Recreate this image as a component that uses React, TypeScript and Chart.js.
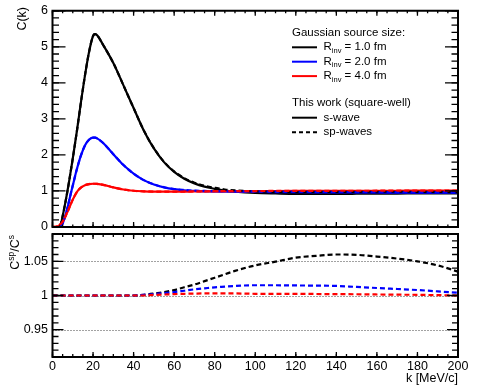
import React, { useEffect, useRef } from "react";
import { Chart, registerables } from "chart.js";
Chart.register(...registerables);

const FONT = '"Liberation Sans", Arial, Helvetica, sans-serif';

// ---- data ----
const kValues = [0, 2, 3, 4, 5, 6, 7, 8, 9, 10, 12, 14, 16, 18, 20, 21, 22, 25, 30, 35, 40, 45, 50, 55, 60, 65, 70, 75, 80, 85, 90, 100, 110, 120, 130, 140, 150, 160, 170, 180, 190, 200];

const sWaveR1 = [0, 0, 0, 0.05, 0.3, 0.58, 0.88, 1.2, 1.55, 1.9, 2.65, 3.45, 4.2, 4.85, 5.3, 5.35, 5.32, 5.05, 4.55, 3.93, 3.3, 2.68, 2.18, 1.8, 1.53, 1.34, 1.21, 1.12, 1.06, 1.01, 0.98, 0.945, 0.93, 0.92, 0.92, 0.92, 0.922, 0.925, 0.928, 0.93, 0.933, 0.935];
const sWaveR2 = [0, 0, 0, 0.02, 0.1, 0.25, 0.45, 0.68, 0.92, 1.15, 1.6, 1.98, 2.26, 2.42, 2.48, 2.48, 2.46, 2.33, 2.02, 1.72, 1.48, 1.3, 1.18, 1.1, 1.05, 1.02, 1.0, 0.99, 0.985, 0.98, 0.977, 0.972, 0.968, 0.965, 0.962, 0.96, 0.958, 0.957, 0.956, 0.955, 0.955, 0.955];
const sWaveR4 = [0, 0.01, 0.03, 0.08, 0.15, 0.25, 0.37, 0.5, 0.63, 0.76, 0.97, 1.09, 1.16, 1.19, 1.2, 1.2, 1.195, 1.17, 1.1, 1.04, 1.005, 0.99, 0.982, 0.98, 0.98, 0.982, 0.985, 0.988, 0.99, 0.992, 0.994, 0.996, 0.998, 1.0, 1.002, 1.003, 1.0045, 1.005, 1.006, 1.007, 1.008, 1.008];

const spWaveR1 = [0, 0, 0, 0.05, 0.3, 0.58, 0.88, 1.2, 1.55, 1.9, 2.65, 3.45, 4.2, 4.85, 5.3, 5.35, 5.32, 5.05, 4.55, 3.93, 3.3, 2.683, 2.187, 1.809, 1.542, 1.356, 1.229, 1.144, 1.088, 1.041, 1.015, 0.987, 0.976, 0.971, 0.973, 0.975, 0.977, 0.978, 0.978, 0.977, 0.974, 0.968];
const spWaveR2 = [0, 0, 0, 0.02, 0.1, 0.25, 0.45, 0.68, 0.92, 1.15, 1.6, 1.98, 2.26, 2.42, 2.48, 2.48, 2.46, 2.33, 2.02, 1.72, 1.48, 1.301, 1.182, 1.104, 1.055, 1.027, 1.009, 1.0, 0.997, 0.993, 0.991, 0.987, 0.983, 0.979, 0.976, 0.973, 0.97, 0.968, 0.965, 0.963, 0.961, 0.959];
const spWaveR4 = [0, 0.01, 0.03, 0.08, 0.15, 0.25, 0.37, 0.5, 0.63, 0.76, 0.97, 1.09, 1.16, 1.19, 1.2, 1.2, 1.195, 1.17, 1.1, 1.04, 1.005, 0.99, 0.983, 0.981, 0.982, 0.984, 0.988, 0.991, 0.993, 0.995, 0.997, 0.998, 1.0005, 1.0025, 1.004, 1.005, 1.0063, 1.0065, 1.0077, 1.008, 1.0085, 1.008];

const ratioR1 = [1, 1, 1, 1, 1, 1, 1, 1, 1, 1, 1, 1, 1, 1, 1, 1, 1, 1, 1, 1, 1, 1.001, 1.003, 1.005, 1.008, 1.012, 1.016, 1.021, 1.026, 1.031, 1.036, 1.044, 1.0495, 1.0554, 1.058, 1.06, 1.0595, 1.057, 1.054, 1.05, 1.044, 1.035];
const ratioR2 = [1, 1, 1, 1, 1, 1, 1, 1, 1, 1, 1, 1, 1, 1, 1, 1, 1, 1, 1, 1, 1, 1.001, 1.002, 1.0035, 1.005, 1.007, 1.009, 1.0105, 1.012, 1.013, 1.014, 1.015, 1.015, 1.0147, 1.0145, 1.014, 1.0125, 1.011, 1.0095, 1.008, 1.006, 1.004];
const ratioR4 = [1, 1, 1, 1, 1, 1, 1, 1, 1, 1, 1, 1, 1, 1, 1, 1, 1, 1, 1, 1, 1, 1.0, 1.0008, 1.0014, 1.002, 1.0025, 1.0028, 1.003, 1.003, 1.003, 1.003, 1.0025, 1.0025, 1.0025, 1.0022, 1.002, 1.0018, 1.0015, 1.0012, 1.001, 1.0005, 1.0];

const xTickValues = [0, 20, 40, 60, 80, 100, 120, 140, 160, 180, 200];
const xTickLabels = ["0", "20", "40", "60", "80", "100", "120", "140", "160", "180", "200"];
const topYTickValues = [0, 1, 2, 3, 4, 5, 6];
const topYTickLabels = ["0", "1", "2", "3", "4", "5", "6"];
const botYTickValues = [0.95, 1, 1.05];
const botYTickLabels = ["0.95", "1", "1.05"];

const seriesColors = ["#000000", "#0000ff", "#ff0000"];
const legendRadii = ["1.0", "2.0", "4.0"];

// ---- layout constants ----
const W = 478;
const H = 389;
const LEFT = 52.5;
const RIGHT_PAD = 20;
const TOP1 = 7;
const BOTTOM1 = 227;
const TOP2 = 234;
const BOTTOM2 = 357;

function rangeSteps(min: number, max: number, step: number) {
  const out: number[] = [];
  const n = Math.round((max - min) / step);
  for (let i = 0; i <= n; i++) out.push(min + i * step);
  return out;
}

function makeFramePlugin(opts: any) {
  return {
    id: "frameTicks",
    beforeDatasetsDraw(chart: any) {
      if (!opts.refLines) return;
      const { ctx, chartArea } = chart;
      const ys = chart.scales.y;
      ctx.save();
      ctx.strokeStyle = "#444";
      ctx.lineWidth = 1;
      ctx.setLineDash([1, 2]);
      for (const v of opts.refLines) {
        const py = Math.round(ys.getPixelForValue(v)) + 0.5;
        ctx.beginPath();
        ctx.moveTo(chartArea.left, py);
        ctx.lineTo(chartArea.right, py);
        ctx.stroke();
      }
      ctx.restore();
    },
    afterDraw(chart: any) {
      const { ctx, chartArea } = chart;
      const xs = chart.scales.x;
      const ys = chart.scales.y;
      const { left, right, top, bottom } = chartArea;
      ctx.save();
      ctx.strokeStyle = "#000";
      ctx.setLineDash([]);
      ctx.lineWidth = 1.3;
      const drawX = (vals: number[], len: number) => {
        for (const v of vals) {
          const px = xs.getPixelForValue(v);
          ctx.beginPath();
          ctx.moveTo(px, bottom);
          ctx.lineTo(px, bottom - len);
          ctx.moveTo(px, top);
          ctx.lineTo(px, top + len);
          ctx.stroke();
        }
      };
      const drawY = (vals: number[], len: number) => {
        for (const v of vals) {
          const py = ys.getPixelForValue(v);
          ctx.beginPath();
          ctx.moveTo(left, py);
          ctx.lineTo(left + len, py);
          ctx.moveTo(right, py);
          ctx.lineTo(right - len, py);
          ctx.stroke();
        }
      };
      drawX(opts.xMinor, opts.xMinorLen);
      drawX(opts.xMajor, opts.xMajorLen);
      drawY(opts.yMinor, opts.yMinorLen);
      drawY(opts.yMajor, opts.yMajorLen);
      ctx.lineWidth = 2;
      ctx.strokeRect(left, top, right - left, bottom - top);
      ctx.restore();
      if (opts.extra) opts.extra(ctx, chartArea);
    },
  };
}

function drawTopExtras(ctx: CanvasRenderingContext2D) {
  ctx.save();
  ctx.fillStyle = "#000";
  ctx.save();
  ctx.translate(23, 7);
  ctx.rotate(-Math.PI / 2);
  ctx.font = `12.5px ${FONT}`;
  ctx.textAlign = "right";
  ctx.textBaseline = "middle";
  ctx.fillText("C(k)", 0, 0);
  ctx.restore();

  const lx = 292;
  const tx = 323.5;
  ctx.font = `11.5px ${FONT}`;
  ctx.textAlign = "left";
  ctx.textBaseline = "middle";
  ctx.fillText("Gaussian source size:", lx, 32.5);
  for (let i = 0; i < 3; i++) {
    const y = 47.3 + i * 14.4;
    ctx.strokeStyle = seriesColors[i];
    ctx.lineWidth = 2;
    ctx.setLineDash([]);
    ctx.beginPath();
    ctx.moveTo(lx, y);
    ctx.lineTo(lx + 25, y);
    ctx.stroke();
    ctx.font = `11.5px ${FONT}`;
    ctx.fillText("R", tx, y);
    let x = tx + ctx.measureText("R").width;
    ctx.font = `7.5px ${FONT}`;
    ctx.fillText("inv", x, y + 3.5);
    x += ctx.measureText("inv").width;
    ctx.font = `11.5px ${FONT}`;
    ctx.fillText(` = ${legendRadii[i]} fm`, x, y);
  }
  ctx.fillText("This work (square-well)", lx, 103.3);
  ctx.strokeStyle = "#000";
  ctx.lineWidth = 2;
  ctx.beginPath();
  ctx.moveTo(lx, 117.7);
  ctx.lineTo(lx + 25, 117.7);
  ctx.stroke();
  ctx.fillText("s-wave", tx, 117.7);
  ctx.setLineDash([4, 3]);
  ctx.beginPath();
  ctx.moveTo(lx, 132.3);
  ctx.lineTo(lx + 25, 132.3);
  ctx.stroke();
  ctx.setLineDash([]);
  ctx.fillText("sp-waves", tx, 132.3);
  ctx.restore();
}

function drawBottomExtras(ctx: CanvasRenderingContext2D, area: any) {
  ctx.save();
  ctx.fillStyle = "#000";
  ctx.save();
  ctx.translate(16, 235);
  ctx.rotate(-Math.PI / 2);
  ctx.textAlign = "left";
  ctx.textBaseline = "middle";
  const main = `12.5px ${FONT}`;
  const sup = `8.5px ${FONT}`;
  const parts: [string, boolean][] = [["C", false], ["sp", true], ["/C", false], ["s", true]];
  let total = 0;
  for (const [t, s] of parts) {
    ctx.font = s ? sup : main;
    total += ctx.measureText(t).width;
  }
  let x = -total;
  for (const [t, s] of parts) {
    ctx.font = s ? sup : main;
    ctx.fillText(t, x, s ? -4.5 : 0);
    x += ctx.measureText(t).width;
  }
  ctx.restore();
  ctx.font = `12.5px ${FONT}`;
  ctx.textAlign = "right";
  ctx.textBaseline = "middle";
  ctx.fillText("k [MeV/c]", area.right, 379);
  ctx.restore();
}

function lineDs(data: number[], color: string, dashed: boolean, order: number) {
  return {
    data: kValues.map((k, i) => ({ x: k, y: data[i] })),
    borderColor: color,
    backgroundColor: color,
    borderWidth: 2.2,
    borderDash: dashed ? [5, 3] : [],
    pointRadius: 0,
    fill: false,
    cubicInterpolationMode: "monotone" as const,
    order,
  };
}

const tickFont = { family: FONT, size: 12.5, lineHeight: 1 };

export default function App() {
  const topRef = useRef<HTMLCanvasElement>(null);
  const botRef = useRef<HTMLCanvasElement>(null);

  useEffect(() => {
    const topChart = new Chart(topRef.current as HTMLCanvasElement, {
      type: "line",
      data: {
        datasets: [
          lineDs(sWaveR1, seriesColors[0], false, 6),
          lineDs(sWaveR2, seriesColors[1], false, 5),
          lineDs(sWaveR4, seriesColors[2], false, 4),
          lineDs(spWaveR1, seriesColors[0], true, 3),
          lineDs(spWaveR2, seriesColors[1], true, 2),
          lineDs(spWaveR4, seriesColors[2], true, 1),
        ],
      },
      options: {
        animation: false,
        responsive: false,
        events: [],
        layout: { padding: { left: 0, right: RIGHT_PAD, top: TOP1, bottom: H - BOTTOM1 } },
        plugins: { legend: { display: false }, tooltip: { enabled: false } },
        scales: {
          x: {
            type: "linear",
            min: 0,
            max: 200,
            grid: { display: false },
            border: { display: false },
            ticks: { display: false },
            afterFit: (s: any) => { s.height = 0; },
          },
          y: {
            type: "linear",
            min: 0,
            max: 6,
            grid: { display: false, drawTicks: false },
            border: { display: false },
            afterBuildTicks: (s: any) => { s.ticks = topYTickValues.map((v) => ({ value: v })); },
            ticks: {
              color: "#000",
              font: tickFont,
              padding: 4.5,
              callback: (v: any) => topYTickLabels[topYTickValues.indexOf(Number(v))] ?? "",
            },
            afterFit: (s: any) => { s.width = LEFT; },
          },
        },
      },
      plugins: [
        makeFramePlugin({
          xMajor: xTickValues,
          xMinor: rangeSteps(0, 200, 5),
          xMajorLen: 5,
          xMinorLen: 2.5,
          yMajor: topYTickValues,
          yMinor: rangeSteps(0, 6, 0.2),
          yMajorLen: 13,
          yMinorLen: 6.5,
          extra: (ctx: CanvasRenderingContext2D) => drawTopExtras(ctx),
        }),
      ],
    } as any);

    const botChart = new Chart(botRef.current as HTMLCanvasElement, {
      type: "line",
      data: {
        datasets: [
          lineDs(ratioR1, seriesColors[0], true, 3),
          lineDs(ratioR2, seriesColors[1], true, 2),
          lineDs(ratioR4, seriesColors[2], true, 1),
        ],
      },
      options: {
        animation: false,
        responsive: false,
        events: [],
        layout: { padding: { left: 0, right: RIGHT_PAD, top: TOP2, bottom: 0 } },
        plugins: { legend: { display: false }, tooltip: { enabled: false } },
        scales: {
          x: {
            type: "linear",
            min: 0,
            max: 200,
            grid: { display: false, drawTicks: false },
            border: { display: false },
            afterBuildTicks: (s: any) => { s.ticks = xTickValues.map((v) => ({ value: v })); },
            ticks: {
              color: "#000",
              font: tickFont,
              padding: 3,
              maxRotation: 0,
              autoSkip: false,
              callback: (v: any) => xTickLabels[xTickValues.indexOf(Number(v))] ?? "",
            },
            afterFit: (s: any) => { s.height = H - BOTTOM2; },
          },
          y: {
            type: "linear",
            min: 0.91,
            max: 1.09,
            grid: { display: false, drawTicks: false },
            border: { display: false },
            afterBuildTicks: (s: any) => { s.ticks = botYTickValues.map((v) => ({ value: v })); },
            ticks: {
              color: "#000",
              font: tickFont,
              padding: 4.5,
              callback: (v: any) => {
                const i = botYTickValues.findIndex((t) => Math.abs(t - Number(v)) < 1e-6);
                return i >= 0 ? botYTickLabels[i] : "";
              },
            },
            afterFit: (s: any) => { s.width = LEFT; },
          },
        },
      },
      plugins: [
        makeFramePlugin({
          xMajor: xTickValues,
          xMinor: rangeSteps(0, 200, 5),
          xMajorLen: 5,
          xMinorLen: 3,
          yMajor: botYTickValues,
          yMinor: rangeSteps(0.91, 1.09, 0.01),
          yMajorLen: 11,
          yMinorLen: 6,
          refLines: botYTickValues,
          extra: (ctx: CanvasRenderingContext2D, area: any) => drawBottomExtras(ctx, area),
        }),
      ],
    } as any);

    return () => {
      topChart.destroy();
      botChart.destroy();
    };
  }, []);

  return (
    <div style={{ position: "fixed", left: 0, top: 0, width: W, height: H, background: "#fff" }}>
      <canvas ref={topRef} width={W} height={H} style={{ position: "absolute", left: 0, top: 0 }} />
      <canvas ref={botRef} width={W} height={H} style={{ position: "absolute", left: 0, top: 0 }} />
    </div>
  );
}
